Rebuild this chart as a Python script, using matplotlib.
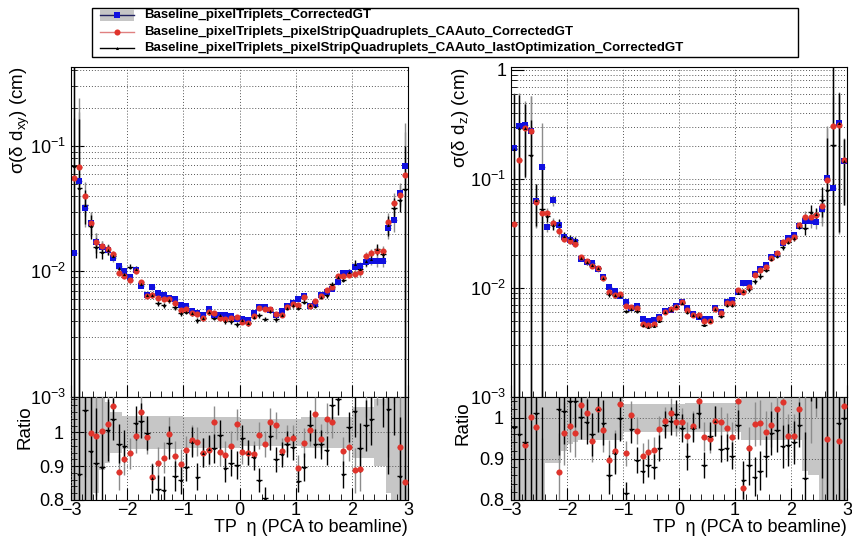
import numpy as np
import matplotlib
matplotlib.use('Agg')
import matplotlib.pyplot as plt
from matplotlib.ticker import (FixedLocator, MultipleLocator, LogLocator,
                               NullFormatter, FuncFormatter)
from matplotlib.patches import Rectangle
from matplotlib.lines import Line2D

plt.rcParams['font.family'] = ['Liberation Sans', 'DejaVu Sans']
plt.rcParams['mathtext.fontset'] = 'custom'
plt.rcParams['mathtext.rm'] = 'Liberation Sans'
plt.rcParams['mathtext.it'] = 'Liberation Sans'
plt.rcParams['mathtext.bf'] = 'Liberation Sans:bold'

# 60 eta bins from -3 to 3
eta_edges = np.linspace(-3.0, 3.0, 61)

labels = ['Baseline_pixelTriplets_CorrectedGT',
          'Baseline_pixelTriplets_pixelStripQuadruplets_CAAuto_CorrectedGT',
          'Baseline_pixelTriplets_pixelStripQuadruplets_CAAuto_lastOptimization_CorrectedGT']

# sigma(delta dxy) of the baseline [cm]
dxy_base = [0.0140, 0.0530, 0.0320, 0.0245, 0.0172, 0.0158, 0.0148, 0.0127, 0.0110, 0.0100,
            0.0091, 0.0102, 0.0077, 0.0065, 0.0075, 0.0067, 0.0065, 0.0061, 0.0060, 0.0054,
            0.0053, 0.0048, 0.0047, 0.0045, 0.0050, 0.0045, 0.0045, 0.0045, 0.0044, 0.0042,
            0.0042, 0.0041, 0.0047, 0.0052, 0.0052, 0.0049, 0.0045, 0.0048, 0.0053, 0.0056,
            0.0060, 0.0064, 0.0053, 0.0055, 0.0065, 0.0068, 0.0073, 0.0082, 0.0098, 0.0098,
            0.0108, 0.0110, 0.0118, 0.0121, 0.0121, 0.0121, 0.0220, 0.0257, 0.0424, 0.0692]
# ratio to baseline: CAAuto
dxy_ratio_ca = [3.98, 1.29, 1.24, 0.998, 0.989, 1.004, 1.024, 1.079, 0.883, 0.920,
                0.938, 0.989, 1.061, 0.987, 0.867, 0.911, 0.925, 0.996, 0.929, 0.906,
                0.948, 0.977, 0.973, 0.940, 0.947, 1.031, 0.943, 0.932, 0.960, 1.024,
                0.943, 0.940, 0.937, 0.992, 0.967, 1.031, 1.021, 0.945, 0.982, 0.984,
                0.896, 0.970, 1.006, 1.056, 0.982, 1.041, 1.031, 1.12, 0.945, 0.958,
                0.888, 0.893, 1.13, 1.16, 1.20, 1.20, 1.13, 1.36, 0.957, 0.852]
# ratio to baseline: CAAuto lastOptimization
dxy_ratio_opt = [4.90, 0.878, 1.066, 0.945, 0.909, 0.899, 1.007, 1.041, 0.967, 0.960,
                 1.20, 1.028, 1.035, 0.999, 0.864, 0.832, 0.829, 0.970, 0.871, 0.860,
                 0.898, 0.971, 0.869, 0.940, 0.950, 0.953, 0.991, 0.894, 0.911, 0.904,
                 0.984, 0.940, 0.927, 0.859, 0.805, 0.989, 0.921, 0.935, 0.965, 0.957,
                 0.857, 0.898, 1.021, 0.967, 0.965, 0.947, 1.080, 1.100, 0.876, 1.016,
                 1.065, 0.955, 1.021, 1.041, 1.24, 1.13, 1.068, 1.24, 0.872, 0.66]
# relative statistical uncertainty per bin
dxy_relerr = [11.0, 2.5, 0.30, 0.22, 0.18, 0.11, 0.09, 0.06, 0.06, 0.05,
              0.05, 0.05, 0.05, 0.05, 0.05, 0.05, 0.05, 0.05, 0.05, 0.05,
              0.045, 0.045, 0.045, 0.045, 0.045, 0.045, 0.045, 0.045, 0.045, 0.045,
              0.04, 0.04, 0.04, 0.04, 0.04, 0.04, 0.04, 0.04, 0.04, 0.04,
              0.04, 0.045, 0.045, 0.045, 0.045, 0.045, 0.045, 0.045, 0.045, 0.045,
              0.075, 0.075, 0.075, 0.075, 0.10, 0.10, 0.18, 0.20, 0.20, 1.2]

# sigma(delta dz) of the baseline [cm]
dz_base = [0.191, 0.306, 0.313, 0.275, 0.063, 0.129, 0.0364, 0.064, 0.038, 0.0295,
           0.0277, 0.0265, 0.0186, 0.0174, 0.0170, 0.0148, 0.0126, 0.0102, 0.0094, 0.0085,
           0.0075, 0.0066, 0.0068, 0.0052, 0.0050, 0.0051, 0.0054, 0.0061, 0.0063, 0.0068,
           0.0075, 0.0066, 0.0058, 0.0054, 0.0052, 0.0052, 0.0065, 0.0060, 0.0075, 0.0077,
           0.0092, 0.0110, 0.0110, 0.0134, 0.0148, 0.0162, 0.0193, 0.0204, 0.0256, 0.0285,
           0.0305, 0.0370, 0.0414, 0.0414, 0.0400, 0.0526, 0.1026, 0.0819, 0.328, 0.145]
dz_ratio_ca = [0.20, 0.49, 0.933, 1.002, 0.976, 0.38, 1.33, 0.61, 0.867, 0.962,
               0.979, 0.962, 1.03, 1.010, 0.944, 1.022, 0.97, 0.897, 0.919, 1.033,
               0.913, 1.006, 0.968, 0.907, 0.917, 0.922, 0.972, 0.992, 1.012, 0.990,
               0.99, 0.955, 0.98, 1.041, 0.954, 0.948, 0.992, 0.990, 0.975, 0.954,
               1.041, 0.829, 0.927, 0.984, 0.988, 0.964, 0.983, 1.020, 1.038, 0.956,
               0.956, 1.022, 1.09, 1.09, 1.165, 1.07, 0.948, 3.7, 0.944, 1.029]
dz_ratio_opt = [0.976, 0.959, 0.94, 0.60, 1.01, 0.41, 1.25, 0.59, 1.022, 1.017,
                1.041, 1.040, 1.002, 0.99, 0.959, 1.022, 0.988, 0.861, 0.913, 0.998,
                0.817, 0.972, 0.897, 0.871, 0.885, 0.881, 0.927, 0.983, 0.992, 1.008,
                0.975, 0.906, 0.975, 1.012, 0.885, 0.956, 0.992, 0.925, 0.927, 0.908,
                0.983, 0.848, 0.885, 0.857, 0.871, 0.906, 0.962, 0.97, 0.930, 0.933,
                0.940, 0.983, 0.853, 1.21, 1.19, 1.22, 0.77, 2.5, 0.986, 1.0]
dz_relerr = [2.2, 1.0, 0.65, 1.1, 0.42, 1.5, 0.11, 0.11, 0.11, 0.08,
             0.065, 0.06, 0.055, 0.055, 0.055, 0.055, 0.055, 0.055, 0.055, 0.055,
             0.034, 0.034, 0.034, 0.034, 0.034, 0.034, 0.034, 0.034, 0.034, 0.034,
             0.034, 0.036, 0.036, 0.036, 0.036, 0.036, 0.036, 0.036, 0.036, 0.036,
             0.036, 0.055, 0.055, 0.055, 0.055, 0.055, 0.055, 0.055, 0.055, 0.055,
             0.055, 0.055, 0.13, 0.14, 0.14, 0.30, 2.0, 6.0, 0.9, 0.6]

eta = 0.5 * (eta_edges[:-1] + eta_edges[1:])
half = 0.5 * np.diff(eta_edges)

BLUE = '#1010e0'
RED = '#e0342c'
GRAY_ERR = '#8c8c8c'
BAND = '#c6c6c6'
GRID = dict(color='#555555', linestyle=(0, (1, 2)), linewidth=0.7)
MINUS = '\u2212'

W, H = 852, 540
fig = plt.figure(figsize=(W / 100, H / 100), dpi=100)


def fbox(x0, y0, x1, y1):
    # pixel box (top-left origin) -> figure fraction rect
    return [x0 / W, 1 - y1 / H, (x1 - x0) / W, (y1 - y0) / H]


def log_label(v, pos):
    if abs(v - 1) < 1e-9:
        return '1'
    return r'$10^{%d}$' % int(round(np.log10(v)))


def draw_main(ax, base, r_ca, r_opt, relerr, ymax, ylab, labx):
    base = np.array(base)
    relerr = np.array(relerr)
    series = [(base, BLUE, GRAY_ERR, 's', 4.2),
              (base * np.array(r_ca), RED, GRAY_ERR, 'o', 4.4),
              (base * np.array(r_opt), 'black', 'black', '^', 2.2)]
    for vals, col, ecol, mk, ms in series:
        err = vals * relerr
        lo = np.minimum(err, vals * 0.9999)
        ax.errorbar(eta, vals, yerr=[lo, err], xerr=half, fmt=mk, color=col,
                    ecolor=ecol, ms=ms, mew=0, elinewidth=1.0, capsize=0)
    ax.set_yscale('log')
    ax.set_xlim(-3, 3)
    ax.set_ylim(1e-3, ymax)
    ax.yaxis.set_major_locator(LogLocator(base=10))
    ax.yaxis.set_minor_locator(LogLocator(base=10, subs=np.arange(2, 10)))
    ax.yaxis.set_major_formatter(FuncFormatter(log_label))
    ax.yaxis.set_minor_formatter(NullFormatter())
    ax.xaxis.set_major_locator(MultipleLocator(1))
    ax.xaxis.set_minor_locator(MultipleLocator(0.2))
    ax.tick_params(labelbottom=False)
    ax.tick_params(which='both', direction='in', labelsize=13)
    ax.tick_params(which='major', length=9)
    ax.tick_params(which='minor', length=4.5)
    ax.grid(True, which='both', axis='y', **GRID)
    ax.grid(True, which='major', axis='x', **GRID)
    ax.set_ylabel(ylab, fontsize=13.5, ha='right')
    ax.yaxis.set_label_coords(labx, 1.0)


def draw_ratio(ax, r_ca, r_opt, relerr, ytop, labx, laby):
    relerr = np.array(relerr)
    ax.bar(eta, 2 * relerr, bottom=1 - relerr, width=2 * half, color=BAND,
           linewidth=0, zorder=1)
    for r, col, ecol, mk, ms in [(np.array(r_ca), RED, GRAY_ERR, 'o', 4.4),
                                 (np.array(r_opt), 'black', 'black', '^', 2.2)]:
        ax.errorbar(eta, r, yerr=r * relerr, xerr=half, fmt=mk, color=col,
                    ecolor=ecol, ms=ms, mew=0, elinewidth=1.0, capsize=0, zorder=3)
    ax.set_xlim(-3, 3)
    ax.set_ylim(0.8, ytop)
    ax.yaxis.set_major_locator(FixedLocator([0.8, 0.9, 1.0]))
    ax.yaxis.set_major_formatter(FuncFormatter(lambda v, p: '%g' % round(v, 2)))
    ax.yaxis.set_minor_locator(MultipleLocator(0.02))
    ax.xaxis.set_major_locator(MultipleLocator(1))
    ax.xaxis.set_minor_locator(MultipleLocator(0.2))
    ax.xaxis.set_major_formatter(
        FuncFormatter(lambda v, p: ('%d' % round(v)).replace('-', MINUS)))
    ax.tick_params(which='both', direction='in', labelsize=13)
    ax.tick_params(axis='x', pad=1.5)
    ax.tick_params(axis='y', pad=5)
    ax.tick_params(which='major', length=9)
    ax.tick_params(which='minor', length=4.5)
    ax.grid(True, which='major', axis='both', **GRID)
    ax.set_axisbelow(False)
    ax.set_ylabel('Ratio', fontsize=13.5)
    ax.yaxis.set_label_coords(labx, laby)
    ax.set_xlabel('TP  \u03b7 (PCA to beamline)', fontsize=13, loc='right',
                  labelpad=0)


ax1 = fig.add_axes(fbox(71, 67, 408, 397))
ax1r = fig.add_axes(fbox(71, 397, 408, 500))
ax2 = fig.add_axes(fbox(511, 67, 847, 397))
ax2r = fig.add_axes(fbox(511, 397, 847, 500))

draw_main(ax1, dxy_base, dxy_ratio_ca, dxy_ratio_opt, dxy_relerr, 0.425,
          'σ(δ d$_{xy}$) (cm)', -0.115)
draw_ratio(ax1r, dxy_ratio_ca, dxy_ratio_opt, dxy_relerr, 1.105, -0.11, 0.71)
draw_main(ax2, dz_base, dz_ratio_ca, dz_ratio_opt, dz_relerr, 1.06,
          'σ(δ d$_{z}$) (cm)', -0.118)
draw_ratio(ax2r, dz_ratio_ca, dz_ratio_opt, dz_relerr, 1.05, -0.118, 0.75)

# legend box across the top
tf = fig.transFigure
fig.add_artist(Rectangle((92 / W, 1 - 57 / H), (798 - 92) / W, (57 - 8) / H,
                         transform=tf, fill=False, edgecolor='black', lw=1.0))
rows = [15, 32, 48]
styles = [(BLUE, 's', 4.2), (RED, 'o', 4.4), ('black', '^', 2.2)]
fig.add_artist(Rectangle((100 / W, 1 - 21 / H), 34 / W, 12 / H, transform=tf,
                         facecolor=BAND, edgecolor='none'))
for yp, (col, mk, ms), lab in zip(rows, styles, labels):
    yf = 1 - yp / H
    lcol = '#e08080' if col == RED else ('#202060' if col == BLUE else 'black')
    fig.add_artist(Line2D([100 / W, 134 / W], [yf, yf], transform=tf, color=lcol, lw=1.0))
    fig.add_artist(Line2D([117 / W], [yf], transform=tf, marker=mk, color=col, ms=ms, mew=0))
    fig.text(144 / W, yf, lab, fontsize=9.5, fontweight='bold', va='center', ha='left')

fig.savefig('out.png', dpi=100)
